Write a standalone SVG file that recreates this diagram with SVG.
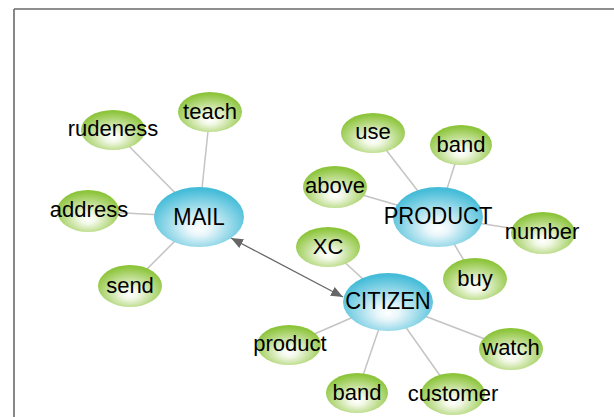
<svg xmlns="http://www.w3.org/2000/svg" width="614" height="417" viewBox="0 0 614 417">
<defs>
<radialGradient id="gg" cx="50%" cy="62%" r="58%" fx="50%" fy="70%">
<stop offset="0" stop-color="#ffffff"/>
<stop offset="0.22" stop-color="#f2f8e6"/>
<stop offset="1" stop-color="#8cc43a"/>
</radialGradient>
<radialGradient id="bg" cx="50%" cy="62%" r="58%" fx="50%" fy="70%">
<stop offset="0" stop-color="#ffffff"/>
<stop offset="0.22" stop-color="#e8f6fa"/>
<stop offset="1" stop-color="#45bcd8"/>
</radialGradient>
<marker id="ah" viewBox="0 0 12 10" refX="12" refY="5" markerWidth="12" markerHeight="10" markerUnits="userSpaceOnUse" orient="auto-start-reverse">
<path d="M0,0 L12,5 L0,10 Z" fill="#666"/>
</marker>
<style>
.g{fill:url(#gg)}
.b{fill:url(#bg)}
text{font-family:"Liberation Sans",Arial,sans-serif;font-size:22px;fill:#000;text-anchor:middle}
.e{stroke:#c4c4c4;stroke-width:1.5;fill:none}
</style>
</defs>
<path d="M14,9 H614 M14,9 V417" stroke="#6a6a6a" stroke-width="1.6" fill="none"/>
<g id="connectors">
<line class="e" x1="199" y1="217" x2="210" y2="112"/>
<line class="e" x1="199" y1="217" x2="113" y2="130"/>
<line class="e" x1="199" y1="217" x2="88" y2="211"/>
<line class="e" x1="199" y1="217" x2="130" y2="286"/>
<line class="e" x1="438" y1="217" x2="373" y2="133"/>
<line class="e" x1="438" y1="217" x2="461" y2="145"/>
<line class="e" x1="438" y1="217" x2="335" y2="187"/>
<line class="e" x1="438" y1="217" x2="543" y2="233"/>
<line class="e" x1="438" y1="217" x2="475" y2="279"/>
<line class="e" x1="388" y1="302" x2="328" y2="247"/>
<line class="e" x1="388" y1="302" x2="289" y2="345"/>
<line class="e" x1="388" y1="302" x2="357" y2="393"/>
<line class="e" x1="388" y1="302" x2="453" y2="394"/>
<line class="e" x1="388" y1="302" x2="511" y2="349"/>
<line x1="231" y1="238" x2="343" y2="297" stroke="#666" stroke-width="1.3" marker-start="url(#ah)" marker-end="url(#ah)"/>
</g>
<g id="teach"><ellipse class="g" cx="210" cy="112" rx="32" ry="20"/><text x="210" y="119">teach</text></g>
<g id="rudeness"><ellipse class="g" cx="113" cy="130" rx="32" ry="20"/><text x="113" y="136">rudeness</text></g>
<g id="address"><ellipse class="g" cx="88" cy="211" rx="31" ry="21"/><text x="89" y="217">address</text></g>
<g id="send"><ellipse class="g" cx="130" cy="286" rx="32" ry="21"/><text x="130" y="293">send</text></g>
<g id="use"><ellipse class="g" cx="373" cy="133" rx="32" ry="20"/><text x="373" y="139">use</text></g>
<g id="band1"><ellipse class="g" cx="461" cy="145" rx="31" ry="20"/><text x="461" y="152">band</text></g>
<g id="above"><ellipse class="g" cx="335" cy="187" rx="32" ry="21"/><text x="335" y="193">above</text></g>
<g id="number"><ellipse class="g" cx="543" cy="233" rx="32" ry="21"/><text x="542" y="239">number</text></g>
<g id="buy"><ellipse class="g" cx="475" cy="279" rx="32" ry="21"/><text x="475" y="286">buy</text></g>
<g id="XC"><ellipse class="g" cx="328" cy="247" rx="32" ry="20"/><text x="328" y="254">XC</text></g>
<g id="product"><ellipse class="g" cx="289" cy="345" rx="32" ry="20"/><text x="290" y="351">product</text></g>
<g id="watch"><ellipse class="g" cx="511" cy="349" rx="32" ry="21"/><text x="511" y="355">watch</text></g>
<g id="band2"><ellipse class="g" cx="357" cy="393" rx="31" ry="20"/><text x="357" y="400">band</text></g>
<g id="customer"><ellipse class="g" cx="453" cy="394" rx="32" ry="21"/><text x="453" y="401">customer</text></g>
<g id="MAIL"><ellipse class="b" cx="199" cy="217" rx="45" ry="30"/><text x="199" y="225" transform="translate(0,225) scale(1,1.1) translate(0,-225)">MAIL</text></g>
<g id="PRODUCT"><ellipse class="b" cx="438" cy="217" rx="45" ry="30"/><text x="438" y="224" transform="translate(0,224) scale(1,1.1) translate(0,-224)">PRODUCT</text></g>
<g id="CITIZEN"><ellipse class="b" cx="388" cy="302" rx="45" ry="29"/><text x="388" y="309" transform="translate(0,309) scale(1,1.1) translate(0,-309)">CITIZEN</text></g>
</svg>
